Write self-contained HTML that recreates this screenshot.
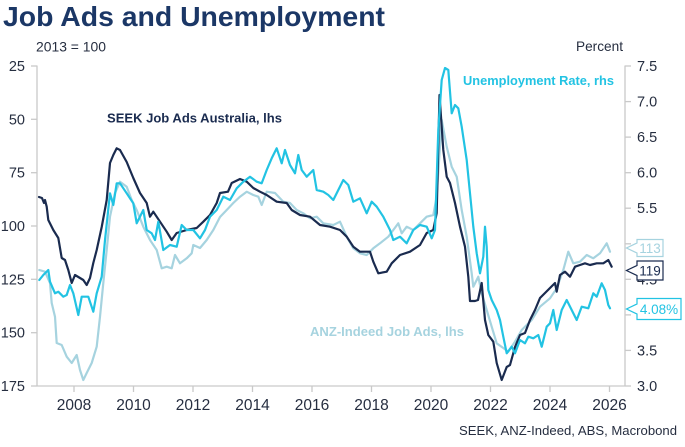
<!DOCTYPE html>
<html>
<head>
<meta charset="utf-8">
<style>
  html, body { margin:0; padding:0; background:#ffffff; }
  svg { display:block; }
  text { font-family: "Liberation Sans", Arial, sans-serif; }
</style>
</head>
<body>
<svg width="685" height="447" viewBox="0 0 685 447" xmlns="http://www.w3.org/2000/svg">
  <rect width="685" height="447" fill="#ffffff"/>

  <!-- Title -->
  <text x="3" y="26" font-size="28" font-weight="bold" fill="#1b3766" textLength="382" lengthAdjust="spacingAndGlyphs">Job Ads and Unemployment</text>

  <!-- Axis titles -->
  <text x="36" y="51.5" font-size="14" fill="#262e40" textLength="70" lengthAdjust="spacingAndGlyphs">2013 = 100</text>
  <text x="576" y="51" font-size="14" fill="#262e40" textLength="47" lengthAdjust="spacingAndGlyphs">Percent</text>

  <!-- Axes -->
  <g stroke="#c9c9c9" stroke-width="1.3" fill="none">
    <line x1="37" y1="65.5" x2="37" y2="386"/>
    <line x1="625" y1="65.5" x2="625" y2="386"/>
    <line x1="37" y1="386" x2="625" y2="386"/>
    <!-- left ticks -->
    <line x1="31" y1="66" x2="37" y2="66"/>
    <line x1="31" y1="119.3" x2="37" y2="119.3"/>
    <line x1="31" y1="172.7" x2="37" y2="172.7"/>
    <line x1="31" y1="226" x2="37" y2="226"/>
    <line x1="31" y1="279.3" x2="37" y2="279.3"/>
    <line x1="31" y1="332.7" x2="37" y2="332.7"/>
    <line x1="31" y1="386" x2="37" y2="386"/>
    <!-- right ticks -->
    <line x1="625" y1="66" x2="631" y2="66"/>
    <line x1="625" y1="101.6" x2="631" y2="101.6"/>
    <line x1="625" y1="137.1" x2="631" y2="137.1"/>
    <line x1="625" y1="172.7" x2="631" y2="172.7"/>
    <line x1="625" y1="208.2" x2="631" y2="208.2"/>
    <line x1="625" y1="243.8" x2="631" y2="243.8"/>
    <line x1="625" y1="279.3" x2="631" y2="279.3"/>
    <line x1="625" y1="314.9" x2="631" y2="314.9"/>
    <line x1="625" y1="350.4" x2="631" y2="350.4"/>
    <line x1="625" y1="386" x2="631" y2="386"/>
    <!-- bottom ticks -->
    <line x1="74" y1="386" x2="74" y2="392"/>
    <line x1="133.5" y1="386" x2="133.5" y2="392"/>
    <line x1="193" y1="386" x2="193" y2="392"/>
    <line x1="252.5" y1="386" x2="252.5" y2="392"/>
    <line x1="312" y1="386" x2="312" y2="392"/>
    <line x1="371.5" y1="386" x2="371.5" y2="392"/>
    <line x1="431" y1="386" x2="431" y2="392"/>
    <line x1="490.5" y1="386" x2="490.5" y2="392"/>
    <line x1="550" y1="386" x2="550" y2="392"/>
    <line x1="609.5" y1="386" x2="609.5" y2="392"/>
  </g>

  <!-- Left labels -->
  <g font-size="14.5" fill="#262e40" text-anchor="end">
    <text x="25" y="71">25</text>
    <text x="25" y="124.3">50</text>
    <text x="25" y="177.7">75</text>
    <text x="25" y="231">100</text>
    <text x="25" y="284.3">125</text>
    <text x="25" y="337.7">150</text>
    <text x="25" y="391">175</text>
  </g>

  <!-- Right labels -->
  <g font-size="14.5" fill="#262e40">
    <text x="637" y="71">7.5</text>
    <text x="637" y="106.6">7.0</text>
    <text x="637" y="142.1">6.5</text>
    <text x="637" y="177.7">6.0</text>
    <text x="637" y="213.2">5.5</text>
    <text x="637" y="248.8">5.0</text>
    <text x="637" y="284.3">4.5</text>
    <text x="637" y="319.9">4.0</text>
    <text x="637" y="355.4">3.5</text>
    <text x="637" y="391">3.0</text>
  </g>

  <!-- Bottom labels -->
  <g font-size="15.5" fill="#262e40" text-anchor="middle">
    <text x="74" y="410">2008</text>
    <text x="133.5" y="410">2010</text>
    <text x="193" y="410">2012</text>
    <text x="252.5" y="410">2014</text>
    <text x="312" y="410">2016</text>
    <text x="371.5" y="410">2018</text>
    <text x="431" y="410">2020</text>
    <text x="490.5" y="410">2022</text>
    <text x="550" y="410">2024</text>
    <text x="609.5" y="410">2026</text>
  </g>

  <!-- Series -->
  <g fill="none" stroke-width="2.2" stroke-linejoin="round" stroke-linecap="round">
    <!-- ANZ-Indeed (light blue) -->
    <polyline stroke="#a6d3df" points="39.3,270 45,271.7 50,283 51.7,303 55,316.7 56.7,343 61.7,345 66.7,356.7 71.7,363 76.7,355 80,370 83.3,380 86.7,373 91.7,363 96.7,346.7 100,316.7 103.3,283 106.7,250 110,216.7 115,193 120,181.7 126.7,186.7 131.7,200 136.7,210 143.3,226.7 150,240 156.7,250 161.7,268.3 166.7,266.7 171.7,268.3 175,255 180,263.3 186.7,258.3 191.7,253.3 193.3,245 200,248 206.7,240 213.3,230 220,217 226.7,210 233.3,203 240,196.7 246.7,191.7 253.3,195 258.3,196.7 261.7,205 266.7,191.7 275,193 283.3,201.7 290,203 296.7,210 303.3,213.3 310,218.3 316.7,216.7 323.3,223.3 333.3,225 340,221.7 346.7,236.7 353.3,248.3 360,253.3 366.7,255 373.3,248.3 380,243.3 388.3,236.7 393.3,230 398.3,223.3 401.7,233.3 406.7,226.7 413.3,230 420,223.3 426.7,216.7 433.3,215 436.7,196.7 441.7,120 446.7,146.7 451.7,166.7 456.7,176.7 461.7,210 466.7,236.7 471.7,273.3 473.3,286.7 478.3,276.7 481.7,293.3 486.7,310 491.7,326.7 496.7,343.3 503.3,348 508.3,351.7 515,341.7 521.7,330 531.7,320 540,306.7 550,298.3 556.7,288.3 563.3,270 568.3,251.7 573.3,263.3 580,261.7 586.7,255 593.3,258.3 600,253.3 606.7,243.3 610,251.7"/>
    <!-- SEEK (navy) -->
    <polyline stroke="#1a2b4f" points="39,197 42,198 44,203 45,200 46.7,206.7 48.3,220 53.3,230 58.3,238 61.7,258 65,260 68.3,270 71.7,283 75,275 80,278 83.3,280 86.7,285 90,278 93.3,263 96.7,250 101.7,227 106.7,200 110,163 113.3,155 116.7,148.3 120,150 126.7,162 133.3,178 140,193 146.7,203 150,216.7 153.3,211.7 160,221.7 166.7,231.7 171.7,240 176.7,233 186.7,230 196.7,228 203.3,221.7 210,215 216.7,203 220,193 228,191.7 231.7,183 240,179 246.7,181.7 253.3,188 260,191.7 266.7,195 276.7,201.7 286.7,203 291.7,210 300,215 310,216.7 320,225 330,226.7 340,230 346.7,236.7 353.3,246.7 360,251.7 370,251.7 373.3,261.7 378.3,273.3 386.7,271.7 391.7,263.3 400,255 410,251.7 420,245 426.7,233 433.3,230 436.7,213 439.5,95 443.3,150 446.7,176.7 450,183 455,203 460,226.7 465,246.7 468.3,276.7 470,301 475,301 478,300 481.7,283 485,320 488.3,335 493.3,341.7 496.7,363 501.7,380 506.7,367 510,365 515,347 520,335 525,333 530,320 535,310 540,298 545,293 550,288 555,283 556.7,291.7 560,275 565,271.7 570,276.7 575,266.7 580,265 585,263.3 590,265 596.7,263.3 603.3,263.3 608.3,260 611.7,266.7"/>
    <!-- Unemployment (cyan) -->
    <polyline stroke="#22c3e3" points="39.3,280 43.3,275 48.3,270 50,281.7 55,293.3 58.3,291.7 63.3,296.7 66.7,295 70,285 73.3,293.3 78.3,315 81.7,296.7 88.3,296.7 93.3,311.7 96.7,293.3 101.7,276.7 105,240 110,193.3 113.3,205 116.7,183.3 120,183.3 126.7,193.3 133.3,203.3 136.7,223.3 143.3,210 146.7,230 151.7,233.3 155,240 158.3,221.7 163.3,250 170,245 176.7,246.7 181.7,225 186.7,230 193.3,230 200,238.3 205,230 210,216.7 216.7,210 223.3,196.7 230,200 236.7,188.3 243.3,181.7 250,176.7 256.7,181.7 261.7,183.3 266.7,170 271.7,158.3 276.7,148.3 281.7,163.3 285,150 290,165 295,173.3 298.3,155 301.7,170 306.7,176.7 313.3,170 316.7,190 323.3,191.7 328.3,195 333.3,200 338.3,190 343.3,180 348.3,185 353.3,201.7 360,198.3 366.7,213.3 371.7,201.7 376.7,206.7 383.3,216.7 390,230 393.3,240 400,236.7 406.7,243.3 413.3,230 420,225 426.7,226.7 431.7,238.3 435,230 438.3,130 441.7,80 445,68 448.3,70 451.7,113.3 455,105 458.3,108.3 461.7,126.7 466.7,160 470,193.3 473.3,226.7 476.7,253.3 480,273.3 483.3,256.7 485,226.7 486.7,246.7 488.3,290 491.7,300 496.7,310 500,320 503.3,336.7 506.7,353.3 511.7,346.7 515,353.3 520,340 525,343.3 528.3,336.7 533.3,338.3 538.3,335 541.7,346.7 546.7,326.7 550,323.3 553.3,310 556.7,330 561.7,310 566.7,300 571.7,310 576.7,320 581.7,306.7 588.3,308.3 593.3,293.3 596.7,296.7 601.7,283.3 605,290 608.3,305 610,308.3"/>
  </g>

  <!-- Series labels -->
  <text x="107" y="122.5" font-size="13" font-weight="bold" fill="#1a2b4f" textLength="175" lengthAdjust="spacingAndGlyphs">SEEK Job Ads Australia, lhs</text>
  <text x="463" y="85" font-size="13" font-weight="bold" fill="#22c3e3" textLength="151" lengthAdjust="spacingAndGlyphs">Unemployment Rate, rhs</text>
  <text x="310" y="336" font-size="13" font-weight="bold" fill="#a6d3df" textLength="154" lengthAdjust="spacingAndGlyphs">ANZ-Indeed Job Ads, lhs</text>

  <!-- End value tags -->
  <polygon points="637,239.5 663,239.5 663,256.5 637,256.5 637,253 626.5,248 637,243" fill="#ffffff" stroke="#a6d3df" stroke-width="1.2"/>
  <text x="650" y="253" font-size="13.5" fill="#a6d3df" text-anchor="middle">113</text>

  <polygon points="637,261 663,261 663,280 637,280 637,275.5 626.5,270.5 637,265.5" fill="#ffffff" stroke="#1a2b4f" stroke-width="1.2"/>
  <text x="650" y="275.5" font-size="13.5" fill="#1a2b4f" text-anchor="middle">119</text>

  <polygon points="637,298.5 681,298.5 681,319.5 637,319.5 637,314 626.5,309 637,304" fill="#ffffff" stroke="#22c3e3" stroke-width="1.2"/>
  <text x="659" y="314" font-size="13.5" fill="#22c3e3" text-anchor="middle">4.08%</text>

  <!-- Source -->
  <text x="459" y="435" font-size="13" fill="#262e40" textLength="218" lengthAdjust="spacingAndGlyphs">SEEK, ANZ-Indeed, ABS, Macrobond</text>
</svg>
</body>
</html>
